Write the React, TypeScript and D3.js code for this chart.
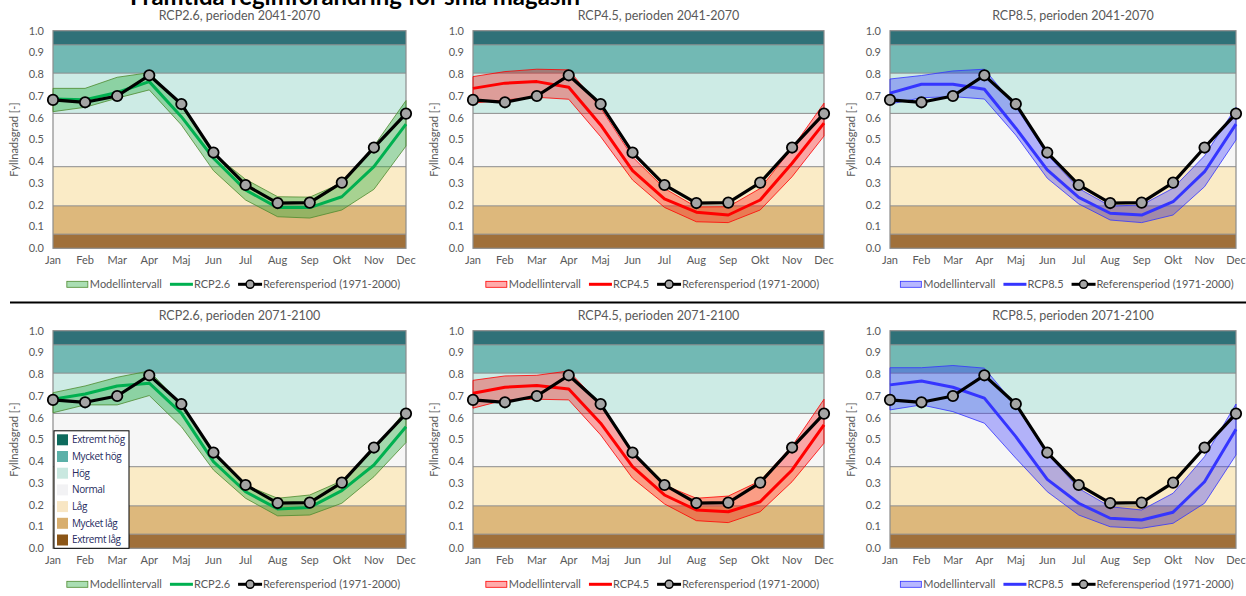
import * as d3 from 'd3';
import { useEffect, useRef } from 'react';

const months = ['Jan', 'Feb', 'Mar', 'Apr', 'Maj', 'Jun', 'Jul', 'Aug', 'Sep', 'Okt', 'Nov', 'Dec'];
const yTicks = [0, 0.1, 0.2, 0.3, 0.4, 0.5, 0.6, 0.7, 0.8, 0.9, 1.0];

// classes of filling degree (lower bound, upper bound)
const bandNames = ['Extremt låg', 'Mycket låg', 'Låg', 'Normal', 'Hög', 'Mycket hög', 'Extremt hög'];
const bandBreaks = [0, 0.065, 0.195, 0.375, 0.62, 0.805, 0.935, 1.0];
const bandColors = ['#A0703A', '#DDB87C', '#FAEBC6', '#F6F6F6', '#CDEBE5', '#72B9B4', '#2F7178'];
const bandLegendColors = ['#8B5516', '#D8AE6E', '#F8E6C4', '#F2F2F4', '#C9E8E0', '#5BB0A8', '#0E6B5E'];

const referens = [0.682, 0.671, 0.700, 0.795, 0.663, 0.440, 0.291, 0.208, 0.210, 0.302, 0.463, 0.619];

const rcp26_2041 = [0.686, 0.683, 0.716, 0.766, 0.605, 0.414, 0.268, 0.187, 0.187, 0.237, 0.375, 0.571];
const rcp26_2041_hi = [0.735, 0.735, 0.786, 0.807, 0.655, 0.435, 0.317, 0.237, 0.235, 0.300, 0.470, 0.679];
const rcp26_2041_lo = [0.628, 0.648, 0.690, 0.728, 0.567, 0.357, 0.222, 0.145, 0.139, 0.176, 0.271, 0.470];

const rcp45_2041 = [0.735, 0.759, 0.766, 0.740, 0.567, 0.357, 0.227, 0.166, 0.153, 0.222, 0.391, 0.575];
const rcp45_2041_hi = [0.789, 0.812, 0.823, 0.820, 0.645, 0.420, 0.275, 0.190, 0.191, 0.275, 0.460, 0.667];
const rcp45_2041_lo = [0.667, 0.682, 0.694, 0.685, 0.513, 0.314, 0.188, 0.122, 0.118, 0.176, 0.329, 0.516];

const rcp85_2041 = [0.713, 0.754, 0.754, 0.731, 0.552, 0.360, 0.234, 0.161, 0.153, 0.214, 0.352, 0.571];
const rcp85_2041_hi = [0.778, 0.794, 0.815, 0.823, 0.650, 0.430, 0.275, 0.194, 0.199, 0.276, 0.425, 0.648];
const rcp85_2041_lo = [0.663, 0.692, 0.697, 0.686, 0.520, 0.322, 0.204, 0.130, 0.118, 0.153, 0.283, 0.498];

const rcp26_2071 = [0.685, 0.709, 0.746, 0.759, 0.621, 0.398, 0.260, 0.181, 0.188, 0.265, 0.383, 0.559];
const rcp26_2071_hi = [0.715, 0.746, 0.786, 0.815, 0.660, 0.435, 0.290, 0.230, 0.245, 0.310, 0.450, 0.636];
const rcp26_2071_lo = [0.623, 0.659, 0.659, 0.702, 0.559, 0.360, 0.230, 0.149, 0.153, 0.207, 0.329, 0.486];

const rcp45_2071 = [0.713, 0.740, 0.748, 0.732, 0.575, 0.375, 0.245, 0.176, 0.168, 0.214, 0.360, 0.567];
const rcp45_2071_hi = [0.772, 0.792, 0.795, 0.815, 0.660, 0.435, 0.290, 0.230, 0.240, 0.310, 0.470, 0.685];
const rcp45_2071_lo = [0.644, 0.682, 0.685, 0.682, 0.521, 0.322, 0.204, 0.127, 0.118, 0.168, 0.306, 0.483];

const rcp85_2071 = [0.751, 0.769, 0.740, 0.690, 0.513, 0.317, 0.207, 0.138, 0.130, 0.166, 0.306, 0.547];
const rcp85_2071_hi = [0.830, 0.830, 0.840, 0.828, 0.655, 0.435, 0.275, 0.191, 0.176, 0.253, 0.421, 0.663];
const rcp85_2071_lo = [0.636, 0.659, 0.628, 0.575, 0.414, 0.260, 0.153, 0.099, 0.092, 0.115, 0.207, 0.429];

const scenarioStyle = {
    'RCP2.6': { line: '#00B050', fill: '#2BAD42', fillOpacity: 0.4, edge: '#4E8A2E' },
    'RCP4.5': { line: '#FF0000', fill: '#FF0000', fillOpacity: 0.33, edge: '#FF0000' },
    'RCP8.5': { line: '#3535FF', fill: '#3333FF', fillOpacity: 0.35, edge: '#3333FF' },
};

const panels = [
    { scen: 'RCP2.6', period: '2041-2070', mid: rcp26_2041, hi: rcp26_2041_hi, lo: rcp26_2041_lo, left: 53, right: 406, top: 30.7, bottom: 248.3 },
    { scen: 'RCP4.5', period: '2041-2070', mid: rcp45_2041, hi: rcp45_2041_hi, lo: rcp45_2041_lo, left: 473, right: 824, top: 30.7, bottom: 248.3 },
    { scen: 'RCP8.5', period: '2041-2070', mid: rcp85_2041, hi: rcp85_2041_hi, lo: rcp85_2041_lo, left: 890, right: 1236, top: 30.7, bottom: 248.3 },
    { scen: 'RCP2.6', period: '2071-2100', mid: rcp26_2071, hi: rcp26_2071_hi, lo: rcp26_2071_lo, left: 53, right: 406, top: 330.7, bottom: 548.3, bandLegend: true },
    { scen: 'RCP4.5', period: '2071-2100', mid: rcp45_2071, hi: rcp45_2071_hi, lo: rcp45_2071_lo, left: 473, right: 824, top: 330.7, bottom: 548.3 },
    { scen: 'RCP8.5', period: '2071-2100', mid: rcp85_2071, hi: rcp85_2071_hi, lo: rcp85_2071_lo, left: 890, right: 1236, top: 330.7, bottom: 548.3 },
];

const FONT = 'Lato, "Liberation Sans", sans-serif';
const GREY = '#595959';

const App = () => {
    const svgRef = useRef(null);

    useEffect(() => {
        const svg = d3.select(svgRef.current);
        svg.selectAll('*').remove();
        const width = 1246;
        const height = 596;

        svg.append('rect').attr('width', width).attr('height', height).attr('fill', '#fff');

        // main title, cut at the top in the original
        svg.append('text')
            .attr('x', 130).attr('y', 5)
            .attr('font-family', FONT).attr('font-weight', 700).attr('font-size', 24)
            .attr('textLength', 450).attr('lengthAdjust', 'spacingAndGlyphs')
            .attr('fill', '#000')
            .text('Framtida regimförändring för små magasin');

        // separator
        svg.append('line')
            .attr('x1', 10).attr('x2', width).attr('y1', 302.5).attr('y2', 302.5)
            .attr('stroke', '#000').attr('stroke-width', 2);

        panels.forEach(p => {
            const st = scenarioStyle[p.scen];
            const g = svg.append('g');

            const x = d3.scalePoint().domain(months).range([p.left, p.right]).padding(0);
            const y = d3.scaleLinear().domain([0, 1]).range([p.bottom, p.top]);

            // background classes
            bandColors.forEach((c, i) => {
                g.append('rect')
                    .attr('x', p.left).attr('width', p.right - p.left)
                    .attr('y', y(bandBreaks[i + 1])).attr('height', y(bandBreaks[i]) - y(bandBreaks[i + 1]))
                    .attr('fill', c);
            });
            bandBreaks.slice(1, -1).forEach(b => {
                g.append('line')
                    .attr('x1', p.left).attr('x2', p.right).attr('y1', y(b)).attr('y2', y(b))
                    .attr('stroke', '#8C8C8C').attr('stroke-width', 1);
            });
            g.append('rect')
                .attr('x', p.left).attr('y', p.top).attr('width', p.right - p.left).attr('height', p.bottom - p.top)
                .attr('fill', 'none').attr('stroke', '#8C8C8C').attr('stroke-width', 1.2);

            // title
            g.append('text')
                .attr('x', (p.left + p.right) / 2 + 10).attr('y', p.top - 11)
                .attr('text-anchor', 'middle')
                .attr('font-family', FONT).attr('font-size', 12.5).attr('fill', GREY)
                .text(`${p.scen}, perioden ${p.period}`);

            // y axis
            g.selectAll('.ytick').data(yTicks).enter().append('text')
                .attr('x', p.left - 9).attr('y', d => y(d)).attr('dy', '0.35em')
                .attr('text-anchor', 'end')
                .attr('font-family', FONT).attr('font-size', 11).attr('fill', GREY)
                .text(d => d.toFixed(1));

            g.append('text')
                .attr('transform', `translate(${p.left - 39}, ${(p.top + p.bottom) / 2}) rotate(-90)`)
                .attr('text-anchor', 'middle').attr('dy', '0.35em')
                .attr('font-family', FONT).attr('font-size', 11).attr('fill', GREY)
                .text('Fyllnadsgrad [-]');

            // x axis
            g.selectAll('.xtick').data(months).enter().append('text')
                .attr('x', d => x(d)).attr('y', p.bottom + 16)
                .attr('text-anchor', 'middle')
                .attr('font-family', FONT).attr('font-size', 11).attr('fill', GREY)
                .text(d => d);

            // model interval
            const area = d3.area()
                .x((d, i) => x(months[i]))
                .y0((d, i) => y(p.lo[i]))
                .y1((d, i) => y(p.hi[i]));
            g.append('path')
                .datum(p.mid)
                .attr('d', area)
                .attr('fill', st.fill).attr('fill-opacity', st.fillOpacity)
                .attr('stroke', st.edge).attr('stroke-width', 0.8);

            const line = d3.line().x((d, i) => x(months[i])).y(d => y(d));
            g.append('path')
                .datum(p.mid)
                .attr('d', line)
                .attr('fill', 'none').attr('stroke', st.line).attr('stroke-width', 3)
                .attr('stroke-linejoin', 'round');

            // reference period
            g.append('path')
                .datum(referens)
                .attr('d', line)
                .attr('fill', 'none').attr('stroke', '#000').attr('stroke-width', 3.2)
                .attr('stroke-linejoin', 'round');
            g.selectAll('.refdot').data(referens).enter().append('circle')
                .attr('cx', (d, i) => x(months[i])).attr('cy', d => y(d))
                .attr('r', 5.2)
                .attr('fill', '#A5A5A5').attr('stroke', '#000').attr('stroke-width', 1.8);

            // legend under panel
            const lg = g.append('g');
            const ly = p.bottom + 36;
            let cx = 0;
            lg.append('rect').attr('x', cx).attr('y', ly - 3).attr('width', 21).attr('height', 6)
                .attr('fill', st.fill).attr('fill-opacity', st.fillOpacity)
                .attr('stroke', st.edge).attr('stroke-width', 0.8);
            cx += 23;
            const addText = (t) => {
                const el = lg.append('text').attr('x', cx).attr('y', ly).attr('dy', '0.35em')
                    .attr('font-family', FONT).attr('font-size', 11).attr('fill', GREY).text(t);
                cx += el.node().getComputedTextLength();
            };
            addText('Modellintervall');
            cx += 8;
            lg.append('line').attr('x1', cx).attr('x2', cx + 23).attr('y1', ly).attr('y2', ly)
                .attr('stroke', st.line).attr('stroke-width', 3);
            cx += 24;
            addText(p.scen);
            cx += 8;
            lg.append('line').attr('x1', cx).attr('x2', cx + 24).attr('y1', ly).attr('y2', ly)
                .attr('stroke', '#000').attr('stroke-width', 3);
            lg.append('circle').attr('cx', cx + 12).attr('cy', ly).attr('r', 4)
                .attr('fill', '#A5A5A5').attr('stroke', '#000').attr('stroke-width', 1.5);
            cx += 25;
            addText('Referensperiod (1971-2000)');
            const lx = (p.left + p.right) / 2 + 4 - cx / 2;
            lg.attr('transform', `translate(${lx}, 0)`);

            // class legend
            if (p.bandLegend) {
                const bl = g.append('g');
                const bx = p.left + 1;
                const by = y(0.54);
                const rowH = 16.7;
                bl.append('rect').attr('x', bx).attr('y', by).attr('width', 75).attr('height', p.bottom - by)
                    .attr('fill', '#fff').attr('stroke', '#000').attr('stroke-width', 1);
                const names = bandNames.slice().reverse();
                const cols = bandLegendColors.slice().reverse();
                names.forEach((n, i) => {
                    const ry = by + 9 + i * rowH;
                    bl.append('rect').attr('x', bx + 3).attr('y', ry - 5.5).attr('width', 11).attr('height', 11)
                        .attr('fill', cols[i]);
                    bl.append('text').attr('x', bx + 18).attr('y', ry).attr('dy', '0.35em')
                        .attr('font-family', '"Open Sans", sans-serif').attr('font-size', 10)
                        .attr('letter-spacing', -0.4)
                        .attr('fill', '#262A5E').text(n);
                });
            }
        });
    }, []);

    return (
        <svg ref={svgRef} width="1246" height="596"
            style={{ position: 'absolute', left: 0, top: 0, display: 'block' }} />
    );
};

export default App;
